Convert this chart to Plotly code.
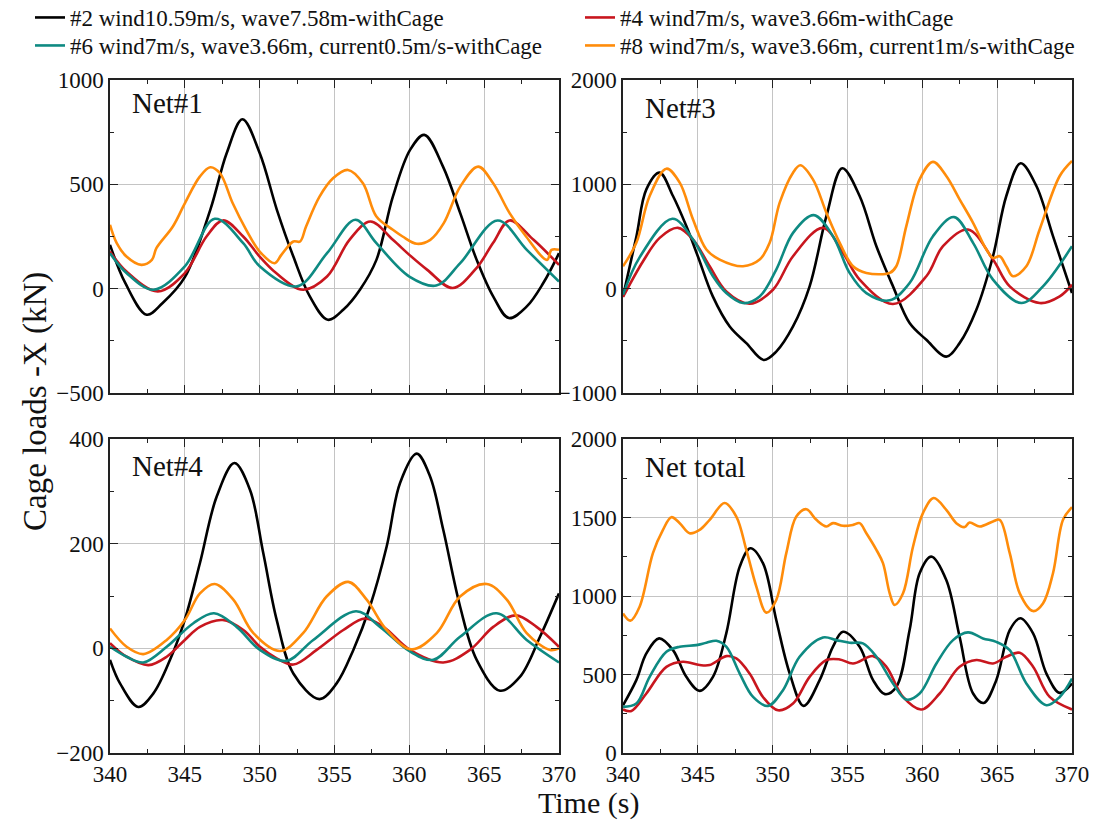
import plotly.graph_objects as go
from plotly.subplots import make_subplots

# series labels and colours
names = [
    "#2 wind10.59m/s, wave7.58m-withCage",
    "#4 wind7m/s, wave3.66m-withCage",
    "#6 wind7m/s, wave3.66m, current0.5m/s-withCage",
    "#8 wind7m/s, wave3.66m, current1m/s-withCage",
]
colors = ["#000000", "#C8161E", "#0E8A82", "#FF8C0A"]

# --- Net#1 ---
t_net1_c2 = [340.0, 341.0, 342.45, 343.5, 345.0, 346.7, 347.8, 348.85, 350.0, 351.15, 352.25, 353.35,
             354.55, 355.6, 356.7, 357.8, 358.9, 360.05, 361.0, 362.25, 363.4, 364.5, 365.6, 366.65,
             367.85, 368.95, 370.0]
net1_c2 = [210, 30, -125, -70, 55, 378, 650, 812, 650, 378, 154, -37,
           -149, -100, -5, 138, 441, 665, 737, 585, 362, 138, -37, -141,
           -85, 27, 170]
t_net1_c4 = [340.0, 341.1, 343.2, 345.0, 346.45, 347.55, 348.9, 350.0, 351.1, 352.9, 354.5, 356.0,
             357.4, 358.9, 360.0, 361.2, 362.9, 364.5, 365.6, 366.7, 368.3, 370.0]
net1_c4 = [178, 82, -13, 75, 250, 327, 250, 154, 75, -5, 58, 234,
           322, 234, 162, 90, 3, 100, 220, 327, 234, 114]
t_net1_c6 = [340.0, 341.1, 342.9, 345.0, 347.0, 348.9, 350.0, 352.5, 354.5, 356.4, 357.8, 360.0,
             361.8, 363.4, 365.9, 367.85, 370.0]
net1_c6 = [170, 75, -5, 107, 335, 218, 107, 11, 170, 330, 218, 58,
           15, 122, 327, 186, 34]
t_net1_c8 = [340.0, 340.45, 341.1, 342.1, 342.8, 343.1, 344.2, 345.0, 346.0, 346.7, 347.35, 348.2,
             349.1, 350.0, 351.0, 351.45, 352.25, 352.7, 353.1, 354.0, 354.9, 355.9, 356.9, 357.8,
             358.9, 359.55, 360.5, 361.4, 362.3, 363.4, 364.6, 365.6, 366.7, 367.8, 369.2, 369.5,
             370.0]
net1_c8 = [306, 218, 154, 114, 138, 194, 298, 409, 537, 582, 553, 409,
           282, 178, 122, 162, 226, 226, 298, 441, 529, 569, 505, 346,
           282, 250, 215, 234, 314, 489, 585, 505, 362, 250, 138, 186,
           186]

# --- Net#3 ---
t_net3_c2 = [340.0, 340.9, 341.56, 342.45, 343.34, 344.23, 345.0, 346.0, 347.13, 348.24, 349.4, 350.24,
             351.36, 352.47, 353.59, 354.65, 355.81, 356.93, 358.04, 359.15, 360.27, 361.6, 362.49,
             363.61, 364.72, 365.61, 366.57, 367.62, 368.73, 370.0]
net3_c2 = [-74, 503, 952, 1112, 888, 600, 311, -74, -362, -522, -683, -603,
           -362, 22, 695, 1154, 888, 407, 22, -330, -490, -651, -522,
           -202, 311, 888, 1202, 984, 503, -42]
t_net3_c4 = [340.0, 341.34, 342.45, 343.67, 344.68, 345.79, 346.9, 348.46, 350.02, 351.36, 353.36,
             354.7, 355.81, 358.04, 360.27, 361.38, 363.05, 364.72, 365.84, 367.84, 369.18, 370.0]
net3_c4 = [-80, 263, 487, 583, 471, 215, -26, -144, -10, 311, 583,
           343, 87, -147, 119, 407, 567, 279, 22, -138, -74, 38]
t_net3_c6 = [340.0, 341.11, 343.3, 344.68, 346.01, 346.9, 348.02, 349.13, 350.24, 351.36, 352.74,
             354.03, 355.14, 356.26, 357.82, 359.15, 360.71, 362.12, 363.39, 364.72, 366.61, 368.06,
             370.0]
net3_c6 = [-58, 300, 670, 471, 119, -42, -138, -74, 183, 535, 705,
           503, 151, -42, -112, 54, 503, 686, 439, 87, -138, 22,
           407]
t_net3_c8 = [340.0, 340.89, 341.78, 342.9, 343.79, 344.68, 345.57, 346.46, 348.02, 349.13, 349.8,
             350.47, 351.36, 351.85, 352.69, 353.59, 354.48, 355.37, 356.26, 357.82, 358.26, 358.93,
             359.82, 360.71, 361.6, 362.49, 363.39, 364.28, 364.72, 365.17, 365.61, 366.06, 366.95,
             367.84, 369.18, 370.0]
net3_c8 = [215, 439, 888, 1150, 1016, 663, 375, 279, 215, 279, 439,
           824, 1112, 1183, 1048, 728, 439, 215, 151, 151, 215, 600,
           1048, 1215, 1080, 856, 631, 375, 295, 311, 215, 119, 215,
           567, 1080, 1224]

# --- Net#4 ---
t_net4_c2 = [340.0, 340.67, 341.89, 342.9, 344.01, 344.99, 346.01, 347.13, 348.31, 349.35, 350.24,
             351.14, 352.25, 353.99, 355.14, 356.26, 357.37, 358.49, 359.38, 360.49, 361.38, 362.27,
             363.39, 364.5, 366.06, 367.4, 368.73, 370.0]
net4_c2 = [-22, -67, -112, -86, -22, 54, 163, 290, 354, 303, 182,
           54, -48, -97, -67, -3, 80, 195, 316, 372, 329, 226,
           80, -22, -81, -54, 22, 105]
t_net4_c4 = [340.0, 341.11, 342.57, 343.79, 345.0, 346.01, 347.53, 348.91, 350.02, 351.14, 352.25,
             353.81, 355.59, 357.04, 358.27, 360.04, 362.27, 364.05, 365.61, 367.1, 368.5, 370.0]
net4_c4 = [10, -16, -32, -16, 16, 41, 54, 35, 3, -19, -31,
           -3, 35, 57, 41, -3, -27, -3, 41, 63, 41, 3]
t_net4_c6 = [340.0, 341.11, 342.23, 343.79, 345.57, 346.95, 348.46, 350.02, 351.8, 353.58, 356.44,
             358.04, 360.04, 361.6, 363.39, 365.84, 367.84, 370.0]
net4_c6 = [3, -16, -27, 3, 48, 67, 41, -3, -24, 16, 71,
           41, -6, -22, 22, 67, 16, -27]
t_net4_c8 = [340.0, 341.11, 342.23, 343.79, 345.0, 346.01, 347.0, 348.24, 349.58, 351.36, 352.9,
             354.47, 355.92, 357.15, 358.49, 360.16, 361.83, 363.39, 365.17, 366.51, 367.84, 369.4,
             370.0]
net4_c8 = [38, 3, -11, 16, 54, 105, 123, 93, 29, -5, 29,
           99, 127, 93, 35, -2, 29, 99, 123, 93, 29, -3,
           0]

# --- Net total ---
t_tot_c2 = [340.0, 340.89, 341.56, 342.41, 343.34, 344.23, 345.12, 346.01, 346.9, 347.8, 348.51,
            349.35, 350.24, 351.14, 352.07, 353.14, 354.03, 354.7, 355.81, 356.71, 357.5, 358.26,
            359.15, 359.82, 360.6, 361.6, 362.49, 363.39, 364.1, 364.94, 365.84, 366.55, 367.4,
            368.29, 369.18, 370.0]
tot_c2 = [304, 464, 634, 730, 655, 485, 396, 485, 762, 1187, 1304,
          1209, 847, 506, 300, 464, 677, 772, 677, 464, 375, 421,
          783, 1145, 1251, 1102, 740, 379, 319, 464, 783, 858, 762,
          506, 383, 443]
t_tot_c4 = [340.0, 340.56, 341.56, 342.9, 344.01, 345.12, 345.79, 346.9, 347.57, 348.46, 349.35,
            350.36, 351.36, 352.47, 353.59, 354.48, 355.37, 356.71, 357.6, 358.71, 359.93, 361.16,
            362.49, 363.61, 364.72, 365.61, 366.51, 367.4, 368.51, 370.0]
tot_c4 = [277, 268, 379, 549, 581, 560, 560, 617, 602, 506, 357,
          272, 315, 485, 592, 596, 570, 617, 549, 357, 277, 379,
          549, 592, 570, 613, 638, 549, 357, 277]
t_tot_c6 = [340.0, 340.89, 341.78, 342.9, 343.79, 344.9, 345.57, 346.24, 346.9, 347.8, 348.69,
            349.69, 350.69, 351.8, 353.36, 354.25, 355.14, 356.03, 356.93, 358.04, 358.93, 359.82,
            360.94, 362.05, 363.05, 364.05, 364.94, 365.84, 366.95, 368.29, 369.18, 370.0]
tot_c6 = [294, 315, 485, 645, 677, 687, 702, 715, 677, 506, 357,
          300, 400, 613, 736, 719, 702, 698, 613, 443, 340, 379,
          570, 719, 768, 730, 708, 655, 443, 304, 357, 474]
t_tot_c8 = [340.0, 340.49, 341.11, 342.0, 342.67, 343.23, 343.79, 344.45, 345.12, 345.79, 346.79,
            347.57, 348.24, 348.91, 349.58, 350.24, 350.91, 351.58, 352.25, 352.92, 353.59, 354.03,
            354.7, 355.37, 355.81, 356.26, 356.93, 357.37, 357.82, 358.15, 358.71, 359.38, 360.04,
            360.76, 361.6, 362.27, 362.83, 363.16, 363.84, 364.72, 365.17, 365.84, 366.51, 367.4,
            368.06, 368.73, 369.4, 370.0]
tot_c8 = [889, 843, 932, 1273, 1421, 1502, 1464, 1400, 1421, 1485, 1592,
          1506, 1294, 1060, 894, 975, 1273, 1506, 1553, 1485, 1443, 1464,
          1447, 1453, 1464, 1400, 1294, 1209, 1017, 943, 1017, 1315, 1528,
          1624, 1549, 1464, 1439, 1468, 1443, 1475, 1485, 1273, 1017, 904,
          953, 1145, 1485, 1566]

panels = [
    (1, 1, [(t_net1_c2, net1_c2), (t_net1_c4, net1_c4), (t_net1_c6, net1_c6), (t_net1_c8, net1_c8)]),
    (1, 2, [(t_net3_c2, net3_c2), (t_net3_c4, net3_c4), (t_net3_c6, net3_c6), (t_net3_c8, net3_c8)]),
    (2, 1, [(t_net4_c2, net4_c2), (t_net4_c4, net4_c4), (t_net4_c6, net4_c6), (t_net4_c8, net4_c8)]),
    (2, 2, [(t_tot_c2, tot_c2), (t_tot_c4, tot_c4), (t_tot_c6, tot_c6), (t_tot_c8, tot_c8)]),
]
y_ranges = {(1, 1): (-500, 1000, 500), (1, 2): (-1000, 2000, 1000),
            (2, 1): (-200, 400, 200), (2, 2): (0, 2000, 500)}

FONT = "Liberation Serif, Times New Roman, serif"
AXC = "#222222"
W, H = 1098, 825

# one small legend per entry, laid out as 2 columns x 2 rows
legend_ids = ["legend", "legend2", "legend3", "legend4"]
legend_pos = [(30, 1 + 4 / H), (580, 1 + 4 / H), (30, 1 - 24 / H), (580, 1 - 24 / H)]

fig = make_subplots(rows=2, cols=2, horizontal_spacing=0.06, vertical_spacing=0.06)

for row, col, series in panels:
    for i, (t, v) in enumerate(series):
        fig.add_trace(go.Scatter(
            x=t, y=v, mode="lines", name=names[i], legendgroup=names[i],
            legend=legend_ids[i], showlegend=(row == 1 and col == 1),
            line=dict(color=colors[i], width=2.6, shape="spline", smoothing=1.0),
        ), row=row, col=col)

    lo, hi, step = y_ranges[(row, col)]
    common = dict(ticks="inside", ticklen=8, tickwidth=1.2, tickcolor=AXC,
                  showline=True, linecolor=AXC, linewidth=1.5, mirror="ticks",
                  showgrid=True, gridcolor="#c4c4c4", gridwidth=1, zeroline=False,
                  tickfont=dict(family=FONT, size=23, color="#111"))
    fig.update_xaxes(range=[340, 370], tick0=340, dtick=5, showticklabels=(row == 2),
                     minor=dict(ticks="inside", ticklen=4, tickcolor=AXC, tick0=340, dtick=2.5, showgrid=False),
                     row=row, col=col, **common)
    fig.update_yaxes(range=[lo, hi], tick0=lo, dtick=step,
                     minor=dict(ticks="inside", ticklen=4, tickcolor=AXC, dtick=step / 2, showgrid=False),
                     row=row, col=col, **common)

# panel positions in pixels of the page
xdom = {1: [110 / W, 559 / W], 2: [623 / W, 1072 / W]}
ydom = {1: [1 - 393 / H, 1 - 80 / H], 2: [1 - 753 / H, 1 - 439 / H]}
k = 1
for row in (1, 2):
    for col in (1, 2):
        sfx = "" if k == 1 else str(k)
        fig.layout["xaxis" + sfx].domain = xdom[col]
        fig.layout["yaxis" + sfx].domain = ydom[row]
        k += 1

labels = ["Net#1", "Net#3", "Net#4", "Net total"]
label_y = [0.925, 0.912, 0.915, 0.912]
for k, (txt, yy) in enumerate(zip(labels, label_y), start=1):
    sfx = "" if k == 1 else str(k)
    fig.add_annotation(text=txt, xref="x" + sfx + " domain", yref="y" + sfx + " domain",
                       x=0.045, y=yy, xanchor="left", yanchor="middle", showarrow=False,
                       font=dict(family=FONT, size=29, color="#111"))

fig.add_annotation(text="Cage loads -X (kN)", xref="paper", yref="paper", x=35 / W, y=1 - 402 / H,
                   textangle=-90, showarrow=False, xanchor="center", yanchor="middle",
                   font=dict(family=FONT, size=33, color="#111"))
fig.add_annotation(text="Time (s)", xref="paper", yref="paper", x=588 / W, y=1 - 803 / H,
                   showarrow=False, xanchor="center", yanchor="middle",
                   font=dict(family=FONT, size=30, color="#111"))

legend_style = dict(orientation="v", xanchor="left", yanchor="top", tracegroupgap=0,
                    font=dict(family=FONT, size=23, color="#111"), bgcolor="rgba(0,0,0,0)")
layout_legends = {}
for lid, (px, py) in zip(legend_ids, legend_pos):
    layout_legends[lid] = dict(x=px / W, y=py, **legend_style)

fig.update_layout(
    width=W, height=H,
    margin=dict(l=0, r=0, t=0, b=0, autoexpand=False),
    paper_bgcolor="white", plot_bgcolor="white",
    **layout_legends,
)

# drop the default 8px page margin so the figure fills the window
fig.write_html("out.html", config={"displayModeBar": False},
               post_script="document.body.style.margin='0';")
